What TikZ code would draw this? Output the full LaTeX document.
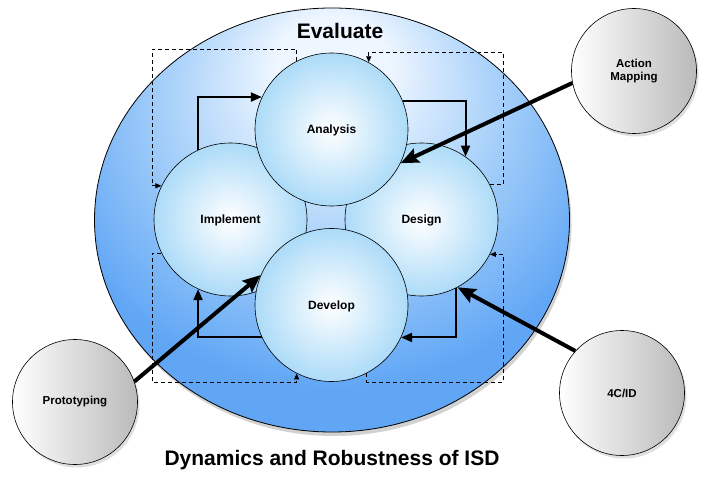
\documentclass[tikz,border=0pt]{standalone}
\usepackage{fontspec}
\setsansfont{Liberation Sans}
\usepackage{tikz}
\usetikzlibrary{arrows.meta, shapes.geometric, shadows}
\usepackage{xcolor}

\definecolor{evalLight}{RGB}{238,246,255}
\definecolor{evalMid}{RGB}{170,210,250}
\definecolor{evalDark}{RGB}{96,166,245}
\definecolor{stageEdge}{RGB}{172,219,248}
\definecolor{toolMid}{RGB}{226,226,226}
\definecolor{toolGray}{RGB}{186,186,186}

\pgfdeclareradialshading{evalshade}{\pgfpoint{0bp}{20bp}}{color(0bp)=(evalLight); color(6bp)=(evalLight); color(17bp)=(evalMid); color(30bp)=(evalDark); color(60bp)=(evalDark)}
\pgfdeclareradialshading{stageshade}{\pgfpoint{0bp}{0bp}}{color(0bp)=(white); color(25bp)=(stageEdge); color(50bp)=(stageEdge)}

\tikzset{
  evalring/.style={ellipse, draw=black, line width=0.8bp, shading=evalshade, inner sep=0pt,
    minimum width=475bp, minimum height=424bp,
    drop shadow={shadow xshift=2bp, shadow yshift=-4bp, opacity=0.35}},
  stage/.style={circle, draw=black, line width=0.6bp, shading=stageshade, inner sep=0pt,
    minimum size=153bp, text depth=0pt, font=\sffamily\bfseries\fontsize{12bp}{14bp}\selectfont},
  tool/.style={circle, draw=black, line width=0.6bp, left color=white, middle color=toolMid, right color=toolGray,
    inner sep=0pt, minimum size=125bp, align=center,
    font=\sffamily\bfseries\fontsize{11.5bp}{13bp}\selectfont,
    drop shadow={shadow xshift=2bp, shadow yshift=-3bp, opacity=0.25}},
  flow/.style={line width=2bp, -{Triangle[length=11bp, width=9bp]}},
  backflow/.style={line width=0.8bp, dash pattern=on 4bp off 3bp, -{Triangle[length=6bp, width=5bp]}},
  push/.style={line width=4bp, -{Stealth[length=18bp, width=15bp, inset=3bp]}},
  heading/.style={font=\sffamily\bfseries\fontsize{21bp}{25bp}\selectfont}
}

\begin{document}
\begin{tikzpicture}[x=1bp, y=-1bp]
	\fill[white] (0,0) rectangle (709,482);
	\useasboundingbox (0,0) rectangle (709,482);

	\node[evalring] (evaluate) at (332,220) {};
	\node[heading] (evaltitle) at (340,31) {Evaluate};
	\node[heading] (caption) at (332,460) {Dynamics and Robustness of ISD};

	\node[stage] (implement) at (230.5,219.5) {Implement};
	\node[stage] (design) at (421.5,219.5) {Design};
	\node[stage] (analysis) at (331.5,129.5) {Analysis};
	\node[stage] (develop) at (331.5,305) {Develop};

	% dashed return paths
	\coordinate (dtl) at (152,49);
	\coordinate (dtr) at (503,52);
	\coordinate (dbr) at (503,382);
	\coordinate (dbl) at (152,382);
	\draw[backflow] (analysis.117) |- (dtl) |- (implement.154);
	\draw[backflow] (design.27) -| (dtr) -| (analysis.61);
	\draw[backflow] (develop.-63) |- (dbr) |- (design.-27);
	\draw[backflow] (implement.-154) -| (dbl) -| (develop.243);

	% main cycle
	\draw[flow] (implement.115) |- (analysis.155);
	\draw[flow] (analysis.22) -| (design.55);
	\draw[flow] (design.-63) |- (develop.-25);
	\draw[flow] (develop.205) -| (implement.-115);

	\node[tool] (actionmap) at (634,71) {Action\\Mapping};
	\node[tool] (fourcid) at (622,393) {4C/ID};
	\node[tool] (proto) at (75,402) {Prototyping};

	\draw[push] (actionmap.191) -- (analysis.-26);
	\draw[push] (fourcid.138) -- (design.-62);
	\draw[push] (proto.19) -- (develop.157);
\end{tikzpicture}
\end{document}
